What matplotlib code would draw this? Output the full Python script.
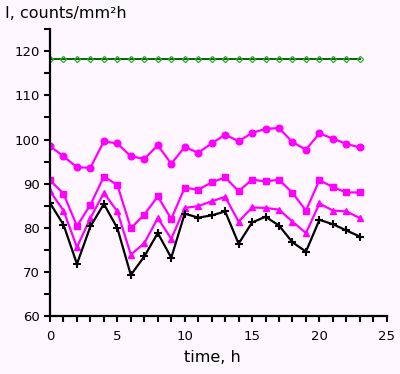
import matplotlib
matplotlib.use("Agg")
import matplotlib.pyplot as plt
from matplotlib.ticker import MultipleLocator

# time, h
hours = list(range(24))

# I, counts/mm^2 h for each curve
green_top = [118.2] * 24
circles = [98.5, 96.2, 93.7, 93.6, 99.6, 99.1, 96.2, 95.6, 98.7, 94.5, 98.3, 97.0,
           99.1, 101.1, 99.6, 101.5, 102.4, 102.6, 99.4, 97.7, 101.4, 100.2, 99.0, 98.2]
squares = [90.8, 87.7, 80.4, 85.2, 91.6, 89.7, 79.9, 83.0, 87.1, 82.0, 89.1, 88.6,
           90.3, 91.4, 88.3, 90.9, 90.5, 90.9, 87.9, 83.9, 90.8, 89.2, 88.0, 88.0]
triangles = [88.3, 83.9, 75.6, 82.2, 87.9, 83.7, 73.9, 76.5, 82.2, 77.5, 84.5, 84.9,
             86.0, 87.0, 81.4, 84.6, 84.5, 84.1, 81.4, 78.8, 85.5, 83.9, 83.7, 82.2]
pluses = [85.6, 80.7, 71.8, 80.3, 85.4, 79.9, 69.3, 73.5, 78.8, 73.2, 83.2, 82.3,
          82.8, 83.7, 76.4, 81.2, 82.5, 80.5, 76.7, 74.6, 81.8, 80.8, 79.4, 78.0]

bg = '#fff7ff'
fig = plt.figure(figsize=(4, 3.74), dpi=100, facecolor=bg)
ax = fig.add_axes([0.125, 0.155, 0.842, 0.767], facecolor=bg)

ax.plot(hours, green_top, color='#006600', lw=1.4, marker='D', ms=3.2,
        mfc='none', mec='#33aa33', mew=0.9)
ax.plot(hours, circles, color='#ff00ff', lw=1.6, marker='o', ms=4.8)
ax.plot(hours, squares, color='#ff00ff', lw=1.6, marker='s', ms=4.8)
ax.plot(hours, triangles, color='#ff00ff', lw=1.6, marker='^', ms=5)
ax.plot(hours, pluses, color='black', lw=1.6, marker='+', ms=6, mew=1.5)

ax.set_xlim(0, 25)
ax.set_ylim(60, 125)
ax.xaxis.set_major_locator(MultipleLocator(5))
ax.xaxis.set_minor_locator(MultipleLocator(1))
ax.yaxis.set_major_locator(MultipleLocator(10))
ax.yaxis.set_minor_locator(MultipleLocator(5))
ax.set_yticks(range(60, 121, 10))

for s in ['top', 'right']:
    ax.spines[s].set_visible(False)
for s in ['left', 'bottom']:
    ax.spines[s].set_linewidth(1.6)
ax.tick_params(which='both', direction='out', length=4, width=1.5, labelsize=9.5)
ax.tick_params(axis='x', pad=6)

fig.text(0.012, 0.965, 'I, counts/mm²h', fontsize=11.5, va='center', ha='left')
fig.text(0.53, 0.045, 'time, h', fontsize=11.5, va='center', ha='center')

plt.savefig('out.png', dpi=100, facecolor=bg)
